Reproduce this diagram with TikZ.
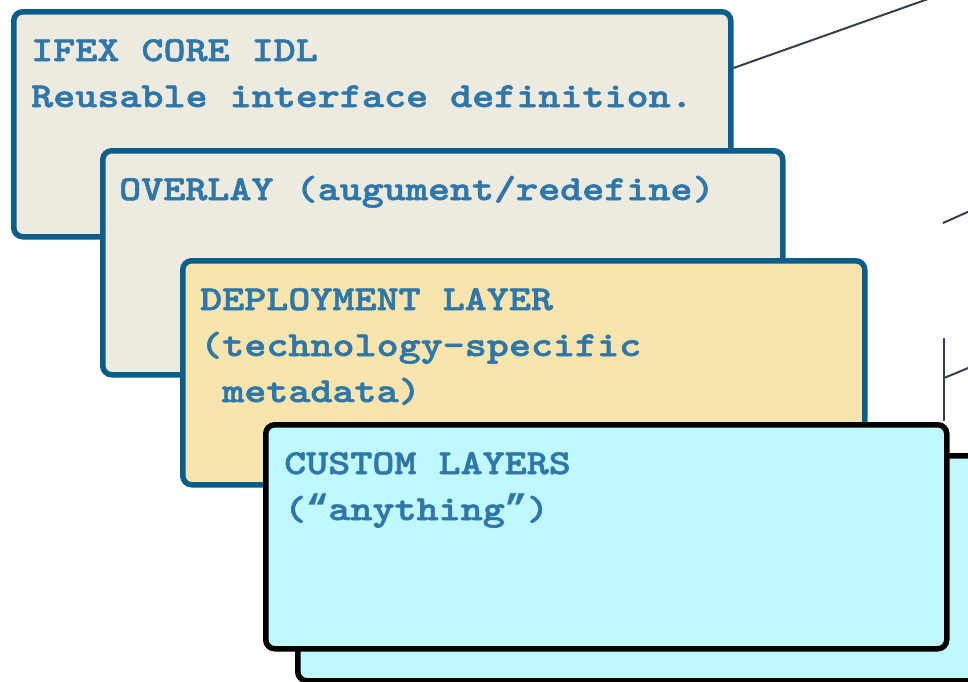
\documentclass[tikz,border=0pt]{standalone}
\usepackage{fontspec}
\newfontfamily\courfont[Extension=.otf, FakeStretch=1.2, FakeBold=1.6]{lmmonolt10-bold}
\newfontfamily\quotefont[FakeBold=0.6]{Liberation Mono Bold}
\newcommand{\curlyq}[1]{{\quotefont\fontsize{36.9}{46}\selectfont #1}}
\definecolor{boxblue}{HTML}{0B5D8B}
\definecolor{txtblue}{HTML}{2E77A8}
\definecolor{greyfill}{HTML}{EDEAE0}
\definecolor{yellowfill}{HTML}{F8E5AE}
\definecolor{cyanfill}{HTML}{C0F8FF}
\definecolor{connline}{HTML}{373F4F}
\begin{document}
\begin{tikzpicture}[x=1pt,y=-1pt,
  layer/.style={draw=boxblue, line width=5.5pt, rounded corners=9pt, anchor=north west, inner sep=0pt},
  customlayer/.style={layer, draw=black, fill=cyanfill},
  lbl/.style={font=\courfont\fontsize{35}{46}\selectfont, text=txtblue, inner sep=0pt, anchor=base west},
  conn/.style={draw=connline, line width=2pt}]
\useasboundingbox (0,0) rectangle (968,681);
\clip (0,0) rectangle (968,681);

% connector fragments running off to the right
\coordinate (aEnd) at (990,-23);
\coordinate (bStart) at (943,223);
\coordinate (bEnd) at (990,202);
\coordinate (cTop) at (944,338);
\coordinate (cMid) at (944,378);
\coordinate (cEnd) at (990,359);

\node[layer, fill=greyfill, minimum width=717pt, minimum height=225pt] (core) at (11,9) {};
\draw[conn] ([yshift=-59pt]core.north east) -- (aEnd);
\node[lbl] (coreA) at (31,61) {IFEX CORE IDL};
\node[lbl] (coreB) at (31,107) {Reusable interface definition.};

\node[layer, fill=greyfill, minimum width=680pt, minimum height=224pt] (overlay) at (100,148) {};
\node[lbl] (overlayA) at (119,200) {OVERLAY (augument/redefine)};

\draw[conn] (bStart) -- (bEnd);

\node[layer, fill=yellowfill, minimum width=682pt, minimum height=224pt] (deploy) at (180,258) {};
\node[lbl] (deployA) at (200,310) {DEPLOYMENT LAYER};
\node[lbl] (deployB) at (200,356) {(technology-specific};
\node[lbl] (deployC) at (200,402) {\hphantom{(}metadata)};

\node[customlayer, minimum width=700pt, minimum height=225pt] (customback) at (295,453) {};
\draw[conn] (cTop) -- (cTop |- 0,421);
\draw[conn] (cMid) -- (cEnd);
\node[customlayer, minimum width=681pt, minimum height=224pt] (custom) at (263,422) {};
\node[lbl] (customA) at (284,474) {CUSTOM LAYERS};
\node[lbl] (customB) at (284,520) {(\curlyq{“}anything\curlyq{”})};
\end{tikzpicture}
\end{document}
